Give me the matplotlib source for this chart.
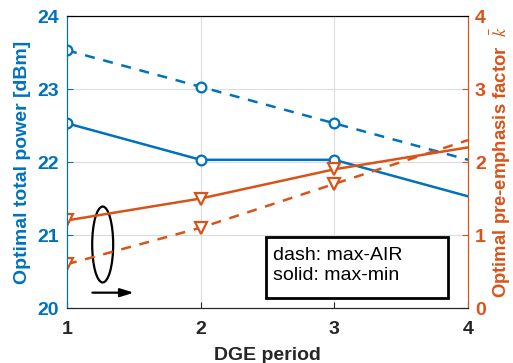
import matplotlib
matplotlib.use('Agg')
import matplotlib.pyplot as plt
from matplotlib.patches import Ellipse, Rectangle

plt.rcParams['font.family'] = ['Liberation Sans', 'DejaVu Sans']
plt.rcParams['mathtext.fontset'] = 'stix'

# DGE period on the x axis
period = [1, 2, 3, 4]

# optimal total power [dBm]
power_minmax = [22.53, 22.03, 22.03, 21.53]
power_air = [23.53, 23.03, 22.53, 22.03]

# optimal pre-emphasis factor
k_minmax = [1.2, 1.5, 1.9, 2.2]
k_air = [0.6, 1.1, 1.7, 2.3]

blue = '#0072BD'
orange = '#D95319'
dark = '#262626'

fig = plt.figure(figsize=(5.13, 3.63), dpi=100)
ax = fig.add_axes([0.1306, 0.1515, 0.7817, 0.8044])
ax2 = ax.twinx()

# power curves, markers only on the first three periods
ax.plot(period, power_minmax, '-', color=blue, lw=1.8)
ax.plot(period[:3], power_minmax[:3], 'o', color=blue, mfc='white', ms=7, mew=1.6)
ax.plot(period, power_air, '--', color=blue, lw=1.8, dashes=(4, 3.5))
ax.plot(period[:3], power_air[:3], 'o', color=blue, mfc='white', ms=7, mew=1.6)

# pre-emphasis curves
ax2.plot(period, k_minmax, '-', color=orange, lw=1.8)
ax2.plot(period[:3], k_minmax[:3], 'v', color=orange, mfc='white', ms=8, mew=1.6)
ax2.plot(period, k_air, '--', color=orange, lw=1.8, dashes=(4, 3.5))
ax2.plot(period[:3], k_air[:3], 'v', color=orange, mfc='white', ms=8, mew=1.6)

ax.set_xlim(1, 4)
ax.set_ylim(20, 24)
ax2.set_ylim(0, 4)
ax.set_xticks([1, 2, 3, 4])
ax.set_yticks([20, 21, 22, 23, 24])
ax2.set_yticks([0, 1, 2, 3, 4])

ax.grid(True, color='#dcdcdc', lw=0.8)
ax.set_axisbelow(True)

ax.tick_params(axis='x', direction='in', colors=dark, labelsize=14, length=4, pad=9)
ax.tick_params(axis='y', direction='in', colors=blue, labelsize=14, length=4, pad=6)
ax2.tick_params(axis='y', direction='in', colors=orange, labelsize=14, length=4, pad=5)
for lab in ax.get_xticklabels() + ax.get_yticklabels() + ax2.get_yticklabels():
    lab.set_fontweight('bold')

ax.spines['left'].set_color(blue)
ax2.spines['left'].set_color(blue)
ax2.spines['right'].set_color(orange)
ax.spines['right'].set_color(orange)
for a in (ax, ax2):
    a.spines['top'].set_color('black')
    a.spines['bottom'].set_color(dark)

ax.set_xlabel('DGE period', fontsize=14, fontweight='bold', color=dark, labelpad=7)
ax.set_ylabel('Optimal total power [dBm]', fontsize=14, fontweight='bold', color=blue, labelpad=4)
ax2.set_ylabel(r'Optimal pre-emphasis factor  $\bar{k}$', fontsize=13.3, fontweight='bold',
               color=orange, labelpad=2)

# ellipse grouping the pre-emphasis curves, arrow pointing to the right axis
ax.add_patch(Ellipse((1.267, 20.87), 0.157, 1.04, fill=False, ec='black', lw=1.6, zorder=5))
ax.annotate('', xy=(1.5, 20.21), xytext=(1.19, 20.21),
            arrowprops=dict(arrowstyle='-|>,head_length=0.8,head_width=0.25',
                            color='black', lw=1.6, shrinkA=0, shrinkB=0))

# line-style key in a framed box
ax.add_patch(Rectangle((2.49, 20.137), 1.36, 0.833, fc='white', ec='black', lw=2, zorder=6))
ax.text(2.54, 20.58, 'dash: max-AIR\nsolid: max-min', fontsize=14, color='black',
        va='center', ha='left', linespacing=1.2, zorder=7)

fig.savefig('out.png', dpi=100)
